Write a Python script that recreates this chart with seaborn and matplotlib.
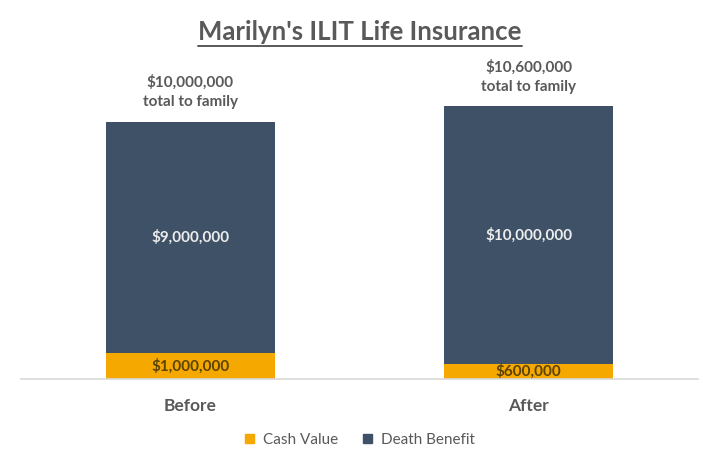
import pandas as pd
import matplotlib
matplotlib.use("Agg")
import matplotlib.pyplot as plt
from matplotlib.lines import Line2D
from matplotlib.patches import Patch
import seaborn as sns

categories = ["Before", "After"]
cash_value = [1_000_000, 600_000]
death_benefit = [9_000_000, 10_000_000]

totals = [c + d for c, d in zip(cash_value, death_benefit)]
df = pd.DataFrame({"when": categories, "cash": cash_value,
                   "death": death_benefit, "total": totals})

orange = "#F5A800"
slate = "#3E5166"
grey = "#595959"

sns.set_theme(style="white")
plt.rcParams["font.family"] = ["Lato", "DejaVu Sans"]

fig = plt.figure(figsize=(7.2, 4.69), dpi=100)
ax = fig.add_axes([21 / 720, 90 / 469, 677 / 720, 319 / 469])

# total bar first (dark), cash value drawn over it at the bottom
sns.barplot(data=df, x="when", y="total", color=slate, width=0.5,
            saturation=1, errorbar=None, linewidth=0, ax=ax)
sns.barplot(data=df, x="when", y="cash", color=orange, width=0.5,
            saturation=1, errorbar=None, linewidth=0, ax=ax)

ax.set_xlim(-0.5, 1.5)
ax.set_ylim(0, 12.4e6)
ax.set_xlabel("")
ax.set_ylabel("")
ax.set_yticks([])
ax.tick_params(axis="x", length=0, pad=14, labelsize=12.5, labelcolor=grey)
for t in ax.get_xticklabels():
    t.set_fontweight("bold")
for side in ["top", "left", "right"]:
    ax.spines[side].set_visible(False)
ax.spines["bottom"].set_color("#D9D9D9")
ax.spines["bottom"].set_linewidth(1.2)

for i, row in df.iterrows():
    ax.text(i, row["cash"] / 2, f"${row['cash']:,.0f}", ha="center", va="center",
            fontsize=11, fontweight="bold", color="#5C4300")
    ax.text(i, row["cash"] + row["death"] / 2, f"${row['death']:,.0f}",
            ha="center", va="center", fontsize=11, fontweight="bold", color="#EDEDED")
    ax.annotate(f"${row['total']:,.0f}\ntotal to family", (i, row["total"]),
                xytext=(0, 9), textcoords="offset points", ha="center", va="bottom",
                fontsize=11, fontweight="bold", color=grey, linespacing=1.5)

handles = [Patch(color=orange, label="Cash Value"),
           Patch(color=slate, label="Death Benefit")]
fig.legend(handles=handles, loc="center", bbox_to_anchor=(0.5, 1 - 440 / 469),
           ncol=2, frameon=False, fontsize=11, labelcolor=grey,
           handlelength=0.6, handleheight=0.6, columnspacing=1.6, handletextpad=0.6)

title = fig.text(0.5, 1 - 32 / 469, "Marilyn's ILIT Life Insurance", ha="center",
                 va="center", fontsize=18.5, fontweight="bold", color=grey)

# underline the title
fig.canvas.draw()
bb = title.get_window_extent(fig.canvas.get_renderer()).transformed(fig.transFigure.inverted())
fig.add_artist(Line2D([bb.x0, bb.x1], [bb.y0 - 0.004, bb.y0 - 0.004],
                      transform=fig.transFigure, color=grey, linewidth=1.4))

fig.savefig("out.png", dpi=100)
